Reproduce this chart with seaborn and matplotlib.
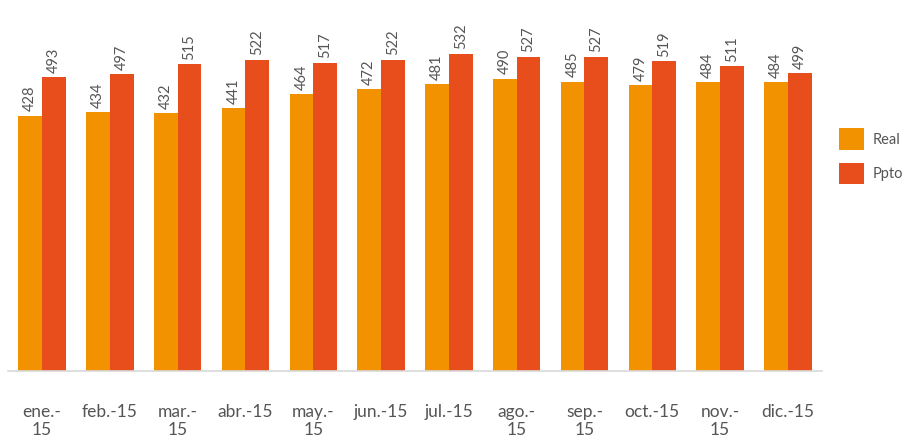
import matplotlib
matplotlib.use("Agg")
import matplotlib.pyplot as plt
import seaborn as sns
import pandas as pd

months = ["ene.-\n15", "feb.-15", "mar.-\n15", "abr.-15", "may.-\n15", "jun.-15",
          "jul.-15", "ago.-\n15", "sep.-\n15", "oct.-15", "nov.-\n15", "dic.-15"]
real = [428, 434, 432, 441, 464, 472, 481, 490, 485, 479, 484, 484]
ppto = [493, 497, 515, 522, 517, 522, 532, 527, 527, 519, 511, 499]
series = ["Real", "Ppto"]
colors = {"Real": "#F39200", "Ppto": "#E84E1B"}

df = pd.DataFrame({
    "mes": months * 2,
    "valor": real + ppto,
    "serie": ["Real"] * len(months) + ["Ppto"] * len(months),
})

sns.set_theme(style="white")
plt.rcParams["font.family"] = ["Lato", "DejaVu Sans"]

fig = plt.figure(figsize=(9.11, 4.42), dpi=100)
ax = fig.add_axes([0.009, 0.1606, 0.893, 0.81])

sns.barplot(data=df, x="mes", y="valor", hue="serie", hue_order=series,
            palette=colors, width=0.7, saturation=1, linewidth=0,
            ax=ax, legend=True)

for cont in ax.containers:
    ax.bar_label(cont, labels=[f"{v:.0f}" for v in cont.datavalues],
                 rotation=90, padding=3, fontsize=10.5, color="#555555")

ax.set_ylim(0, 600)
ax.set_xlim(-0.5, len(months) - 0.5)
ax.set_xlabel("")
ax.set_ylabel("")
ax.set_yticks([])
for s in ["top", "right", "left"]:
    ax.spines[s].set_visible(False)
ax.spines["bottom"].set_color("#d9d9d9")
ax.spines["bottom"].set_linewidth(1.2)
ax.tick_params(axis="x", length=0, pad=24, labelsize=12.5, labelcolor="#555555")
for t in ax.get_xticklabels():
    t.set_linespacing(1.15)

ax.legend(loc="center left", bbox_to_anchor=(1.005, 0.60), frameon=False,
          fontsize=10.5, labelcolor="#555555", handlelength=1.7, handleheight=1.9,
          labelspacing=0.9, handletextpad=0.6)

fig.savefig("out.png", dpi=100)
